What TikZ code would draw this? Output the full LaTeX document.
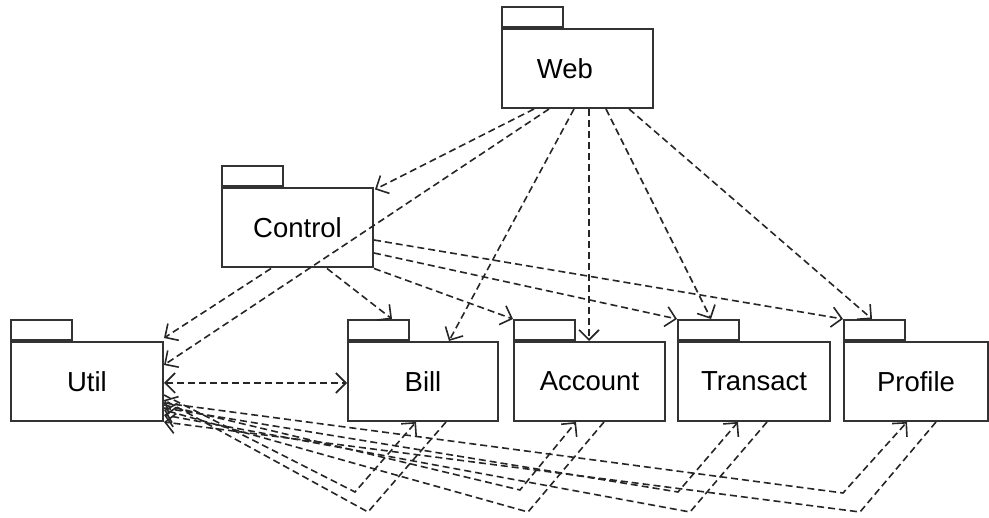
\documentclass[tikz,border=0pt]{standalone}
\usepackage{fontspec}
\setmainfont{Liberation Sans}
\usetikzlibrary{arrows.meta,calc}
\begin{document}
\begin{tikzpicture}[x=1pt,y=-1pt,
  pkgbody/.style={draw=black!80, line width=2pt, fill=white, inner sep=0pt,
     minimum width=151pt, minimum height=79pt, font=\fontsize{27.5}{31}\selectfont},
  tabbox/.style={draw=black!80, line width=2pt, inner sep=0pt, anchor=south west,
     minimum width=61pt, minimum height=20pt},
  dep/.style={draw=black!85, line width=1.6pt, dash pattern=on 7pt off 4pt,
     -{Straight Barb[length=10pt,width=20pt]}},
  bidep/.style={dep, {Straight Barb[length=10pt,width=20pt]}-{Straight Barb[length=10pt,width=20pt]}}
]
\useasboundingbox (0,0) rectangle (989,518);

% packages
\node[pkgbody] (web)   at (577.5,68.5) {};
\node[font=\fontsize{27.5}{31}\selectfont] (weblbl) at (565,68.5) {Web};
\node[pkgbody] (ctrl)  at (297.5,228)  {Control};
\node[pkgbody, minimum width=152pt] (util)  at (87,381.5)   {Util};
\node[pkgbody, minimum width=150pt] (bill)  at (423,381.5)  {Bill};
\node[pkgbody] (acct)  at (589.5,381.5){Account};
\node[pkgbody, minimum width=152pt] (trans) at (754,381.5)  {Transact};
\node[pkgbody, minimum width=144pt] (prof)  at (916,381.5)  {Profile};

\node[tabbox] (webtab)   at (web.north west) {};
\node[tabbox] (ctrltab)  at (ctrl.north west) {};
\node[tabbox] (utiltab)  at (util.north west) {};
\node[tabbox] (billtab)  at (bill.north west) {};
\node[tabbox] (accttab)  at (acct.north west) {};
\node[tabbox] (transtab) at (trans.north west) {};
\node[tabbox] (proftab)  at (prof.north west) {};

% bend points below the packages
\coordinate (vb1) at (355,492);
\coordinate (vb2) at (368,512);
\coordinate (va1) at (520,490);
\coordinate (va2) at (528,512);
\coordinate (vt1) at (678,492);
\coordinate (vt2) at (690,512);
\coordinate (vp1) at (843,493);
\coordinate (vp2) at (860,512);

% Web dependencies
\draw[dep] ($(web.south west)+(33,0)$)  -- ($(ctrl.north east)+(1,2)$);
\draw[dep] ($(web.south west)+(48,0)$)  -- ($(util.east)+(0,-16.5)$);
\draw[dep] ($(web.south west)+(73,0)$)  -- ($(bill.north west)+(102,0)$);
\draw[dep] ($(web.south west)+(88,0)$)  -- ($(acct.north west)+(76,0)$);
\draw[dep] ($(web.south west)+(105,0)$) -- ($(transtab.north west)+(34,0)$);
\draw[dep] ($(web.south west)+(128,0)$) -- ($(proftab.north west)+(29,0)$);

% Control dependencies
\draw[dep] ($(ctrl.south west)+(50,0)$)  -- ($(util.east)+(0,-43.5)$);
\draw[dep] ($(ctrl.south west)+(106,0)$) -- ($(billtab.north west)+(45,0)$);
\draw[dep] (ctrl.south east) -- (accttab.north west);
\draw[dep] ($(ctrl.east)+(0,25)$) -- (transtab.north west);
\draw[dep] ($(ctrl.east)+(0,12)$) -- (proftab.north west);

% Util <-> Bill
\draw[bidep] ($(util.east)+(0,1.5)$) -- ($(bill.west)+(0,1.5)$);

% Util <-> lower packages (bent)
\draw[dep] ($(util.east)+(0,13.5)$) -- (vb1) -- ($(bill.south west)+(69,0)$);
\draw[dep] ($(bill.south west)+(99,0)$) -- (vb2) -- ($(util.east)+(0,18.5)$);
\draw[dep] ($(util.east)+(0,23.5)$) -- (va1) -- ($(acct.south west)+(63,0)$);
\draw[dep] ($(acct.south west)+(91,0)$) -- (va2) -- ($(util.east)+(0,28.5)$);
\draw[dep] ($(util.east)+(0,26.5)$) -- (vt1) -- ($(trans.south west)+(61,0)$);
\draw[dep] ($(trans.south west)+(90,0)$) -- (vt2) -- ($(util.east)+(0,33.5)$);
\draw[dep] ($(util.east)+(0,21.5)$) -- (vp1) -- ($(prof.south west)+(64,0)$);
\draw[dep] ($(prof.south west)+(93,0)$) -- (vp2) -- ($(util.east)+(0,40.5)$);
\end{tikzpicture}
\end{document}
